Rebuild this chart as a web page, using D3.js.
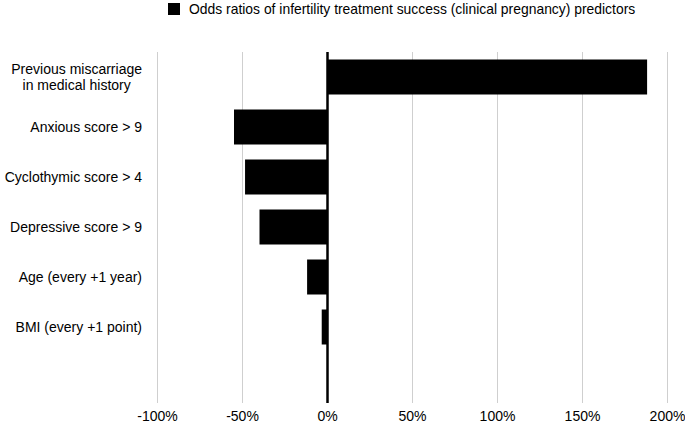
<!DOCTYPE html>
<html>
<head>
<meta charset="utf-8">
<script src="https://cdn.jsdelivr.net/npm/d3@7"></script>
<style>
  body { margin: 0; background: #fff; }
  text { font-family: "Liberation Sans", Arial, sans-serif; fill: #000; }
</style>
</head>
<body>
<svg id="chart" width="685" height="424"></svg>
<script>
// predictors, top to bottom (last slot is empty in the original)
const categories = [
  ["Previous miscarriage", "in medical history"],
  ["Anxious score > 9"],
  ["Cyclothymic score > 4"],
  ["Depressive score > 9"],
  ["Age (every +1 year)"],
  ["BMI (every +1 point)"],
  [""]
];
const values = [188, -55, -48.5, -40, -12, -3.4, null];
const ticks = [-100, -50, 0, 50, 100, 150, 200];
const legendLabel = "Odds ratios of infertility treatment success (clinical pregnancy) predictors";

const svg = d3.select("#chart");

const x = d3.scaleLinear().domain([-100, 200]).range([157.5, 667.5]);
const y = d3.scaleBand()
  .domain(d3.range(categories.length))
  .range([52, 402])
  .paddingInner(0.3)
  .paddingOuter(0.15);

// grid lines
svg.append("g")
  .selectAll("line")
  .data(ticks.filter(t => t !== 0))
  .join("line")
  .attr("x1", d => x(d)).attr("x2", d => x(d))
  .attr("y1", 52).attr("y2", 403)
  .attr("stroke", "#cfcfcf")
  .attr("stroke-width", 1);

// bars
const rows = categories.map((c, i) => ({ i, v: values[i] })).filter(d => d.v != null);
svg.append("g")
  .selectAll("rect")
  .data(rows)
  .join("rect")
  .attr("x", d => x(Math.min(0, d.v)))
  .attr("width", d => Math.abs(x(d.v) - x(0)))
  .attr("y", d => y(d.i))
  .attr("height", y.bandwidth())
  .attr("fill", "#000");

// zero line
svg.append("line")
  .attr("x1", x(0)).attr("x2", x(0))
  .attr("y1", 52).attr("y2", 403)
  .attr("stroke", "#000")
  .attr("stroke-width", 2.5);

// x tick labels
svg.append("g")
  .selectAll("text")
  .data(ticks)
  .join("text")
  .attr("x", d => x(d))
  .attr("y", 421)
  .attr("text-anchor", "middle")
  .style("font-size", "14px")
  .text(d => d + "%");

// category labels, right side of the block at x=142, lines centred to each other
const labelRight = 142;
categories.forEach((lines, i) => {
  const t = svg.append("text")
    .style("font-size", "14px")
    .attr("text-anchor", "middle");
  const cy = y(i) + y.bandwidth() / 2;
  const lh = 16;
  lines.forEach((ln, k) => {
    t.append("tspan")
      .attr("y", cy + 5 + (k - (lines.length - 1) / 2) * lh)
      .text(ln);
  });
  const w = d3.max(t.selectAll("tspan").nodes(), n => n.getComputedTextLength()) || 0;
  t.selectAll("tspan").attr("x", labelRight - w / 2);
});

// legend
svg.append("rect")
  .attr("x", 168).attr("y", 3)
  .attr("width", 12).attr("height", 12)
  .attr("fill", "#000");
svg.append("text")
  .attr("x", 189).attr("y", 14)
  .style("font-size", "13.9px")
  .text(legendLabel);
</script>
</body>
</html>
